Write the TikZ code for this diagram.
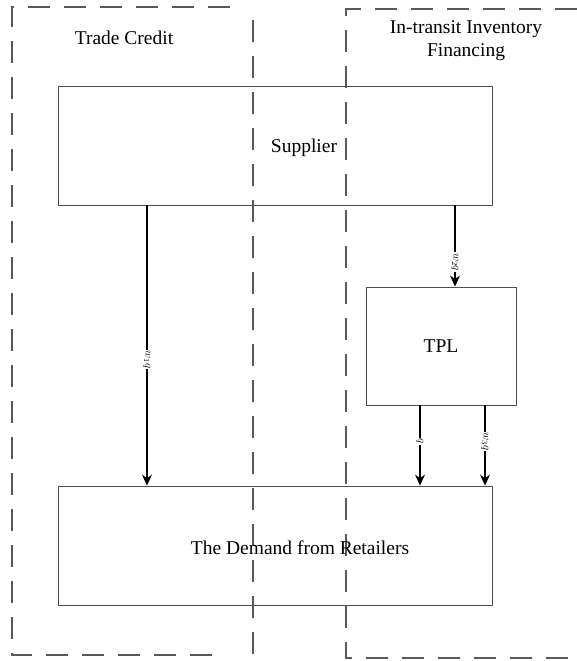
\documentclass[tikz,border=0pt]{standalone}
\usepackage{fontspec}
\setmainfont{Liberation Serif}
\usetikzlibrary{arrows.meta}

\tikzset{
  region/.style={line width=1.4pt, gray!70!black, dash pattern=on 22pt off 14pt},
  block/.style={draw=gray!60!black, line width=0.9pt, minimum width=434pt, inner sep=0pt},
  flow/.style={line width=1.1pt, -{Stealth[length=11pt,width=10pt]}},
  flowlabel/.style={fill=white, inner sep=1pt, rotate=-90, font=\fontsize{11}{12}\selectfont}
}

\begin{document}
\begin{tikzpicture}[x=1pt,y=-1pt]
  \useasboundingbox (0,0) rectangle (577,661);
  \fontsize{19.5}{23}\selectfont

  % dashed regions
  \draw [region] (230,7) -- (12,7) -- (12,655) -- (222,655);
  \draw [region] (253,20) -- (253,655);
  \draw [region] (577,9) -- (346,9) -- (346,658) -- (577,658);

  \node (tc) at (124,38) {Trade Credit};
  \node (itf) [align=center] at (466,41) {In-transit Inventory\\Financing};

  % blocks
  \node (supplier) [block, minimum height=119pt] at (275,145.5) {};
  \node at (304,148) {Supplier};
  \node (tpl) [block, minimum width=150pt, minimum height=118pt] at (441,346) {TPL};
  \node (demand) [block, minimum height=119pt] at (275,545.5) {};
  \node at (300,548) {The Demand from Retailers};

  % arrows
  \coordinate (c1) at (147,0);
  \coordinate (c2) at (455,0);
  \coordinate (c3) at (420,0);
  \coordinate (c4) at (485,0);
  \draw [flow] (supplier.south -| c1) -- node [flowlabel, pos=0.55] {$w_1q$} (demand.north -| c1);
  \draw [flow] (supplier.south -| c2) -- node [flowlabel, pos=0.7] {$w_2q$} (tpl.north -| c2);
  \draw [flow] (tpl.south -| c3) -- node [flowlabel, pos=0.45] {$q$} (demand.north -| c3);
  \draw [flow] (tpl.south -| c4) -- node [flowlabel, pos=0.45] {$w_3q$} (demand.north -| c4);
\end{tikzpicture}
\end{document}
